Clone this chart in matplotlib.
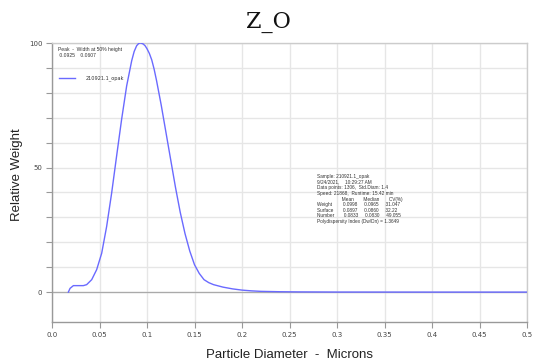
import matplotlib
matplotlib.use("Agg")
import matplotlib.pyplot as plt

# Weight-based particle size distribution (diameter in microns, relative weight in %)
diameter = [0.0172, 0.0190, 0.0225, 0.0277, 0.0330, 0.0365, 0.0418, 0.0470,
            0.0523, 0.0575, 0.0628, 0.0680, 0.0733, 0.0786, 0.0839, 0.0865,
            0.0891, 0.0910, 0.0925, 0.0940, 0.0960, 0.0980, 0.1000, 0.1025,
            0.1050, 0.1075, 0.1100, 0.1150, 0.1200, 0.1250, 0.1300, 0.1350,
            0.1400, 0.1450, 0.1500, 0.1550, 0.1600, 0.1650, 0.1700, 0.1800,
            0.1900, 0.2000, 0.2100, 0.2200, 0.2400, 0.2600, 0.3000, 0.4000,
            0.5000]
rel_weight = [0.0, 1.5, 2.6, 2.6, 2.6, 3.0, 5.0, 9.0,
              15.6, 26.3, 39.8, 54.6, 69.4, 82.8, 92.9, 96.6,
              98.9, 99.7, 100.0, 99.9, 99.6, 98.9, 97.7, 95.8,
              93.2, 89.5, 85.0, 75.0, 64.0, 53.0, 42.0, 32.0,
              23.5, 16.5, 11.0, 7.5, 5.0, 3.8, 3.0, 2.0,
              1.3, 0.8, 0.5, 0.3, 0.15, 0.08, 0.02, 0.0,
              0.0]

x_ticks = [0.0, 0.05, 0.1, 0.15, 0.2, 0.25, 0.3, 0.35, 0.4, 0.45, 0.5]
x_tick_labels = ["0.0", "0.05", "0.1", "0.15", "0.2", "0.25", "0.3", "0.35",
                 "0.4", "0.45", "0.5"]
y_ticks = [0, 50, 100]

sample_name = "210921.1_opak"
peak_text = "Peak  -  Width at 50% height\n 0.0925    0.0607"
info_lines = [
    "Sample: 210921.1_opak",
    "9/24/2021,    10:29:27 AM",
    "Data points: 1306,  Std.Diam: 1.4",
    "Speed: 21868,  Runtime: 15.42 min",
    "                  Mean       Median       CV(%)",
    "Weight        0.0998     0.0965     31.047",
    "Surface       0.0897     0.0860     32.22",
    "Number       0.0833     0.0830     49.055",
    "Polydispersity Index (Dw/Dn) = 1.3649",
]

fig = plt.figure(figsize=(5.36, 3.60), dpi=100)
ax = fig.add_axes([52 / 536, 38 / 360, 475 / 536, 279 / 360])

ax.plot(diameter, rel_weight, color="#6a6aff", lw=1.0, label=sample_name, zorder=3,
        solid_joinstyle="round")

ax.set_xlim(0, 0.5)
ax.set_ylim(-12, 100)
ax.set_xticks(x_ticks)
ax.set_xticklabels(x_tick_labels)
ax.set_yticks(y_ticks)
ax.set_yticks(range(0, 101, 10), minor=True)

ax.grid(True, which="major", axis="x", color="#e6e6e6", lw=1.0)
ax.grid(True, which="both", axis="y", color="#e6e6e6", lw=1.0)
ax.axhline(0, color="#aaaaaa", lw=0.9, zorder=2)
ax.set_axisbelow(True)

for side in ("left", "bottom"):
    ax.spines[side].set_color("#999999")
    ax.spines[side].set_linewidth(1.0)
for side in ("right", "top"):
    ax.spines[side].set_color("#cccccc")
    ax.spines[side].set_linewidth(1.0)

ax.tick_params(axis="both", which="both", length=4, width=0.8, color="#999999",
               labelsize=5, labelcolor="#444444", pad=3)

ax.set_xlabel("Particle Diameter  -  Microns", family="Liberation Sans",
              fontsize=9.5, color="#222222", labelpad=8)
ax.set_ylabel("Relative Weight", family="Liberation Sans",
              fontsize=9.5, color="#222222")
ax.yaxis.set_label_coords(-0.06, 0.53)

ax.text(0.012, 0.985, peak_text, transform=ax.transAxes, va="top", ha="left",
        fontsize=3.6, color="#333333", family="Liberation Sans", linespacing=1.1)
leg = ax.legend(loc="upper left", bbox_to_anchor=(0.005, 0.90), frameon=False,
                fontsize=3.6, handlelength=3.2, handletextpad=2.2)
for t in leg.get_texts():
    t.set_color("#333333")

ax.text(0.557, 0.53, "\n".join(info_lines), transform=ax.transAxes,
        va="top", ha="left", fontsize=3.4, color="#333333",
        family="Liberation Sans", linespacing=1.15)

fig.suptitle("Z_O", family="DejaVu Serif", fontsize=16, y=0.97, color="#111111")

fig.savefig("out.png", dpi=100)
